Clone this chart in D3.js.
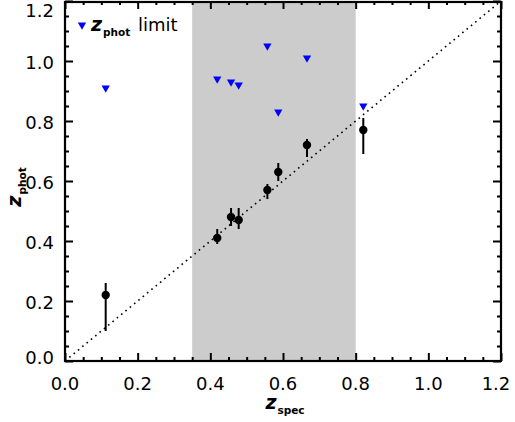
<!DOCTYPE html>
<html>
<head>
<meta charset="utf-8">
<script src="https://cdn.jsdelivr.net/npm/d3@7"></script>
<style>
  html, body { margin: 0; padding: 0; background: #fff; }
  svg { display: block; }
  text { font-family: "DejaVu Sans", sans-serif; fill: #000; }
</style>
</head>
<body>
<svg id="chart" width="515" height="422"></svg>
<script>
// ---- data ----
const zSpec     = [0.112, 0.419, 0.457, 0.478, 0.557, 0.587, 0.666, 0.821];
const zPhot     = [0.22, 0.41, 0.48, 0.47, 0.57, 0.63, 0.72, 0.77];
const zPhotLow  = [0.10, 0.39, 0.45, 0.44, 0.54, 0.60, 0.68, 0.69];
const zPhotHigh = [0.26, 0.44, 0.51, 0.51, 0.59, 0.66, 0.74, 0.81];
const zLimSpec  = [0.112, 0.419, 0.457, 0.478, 0.557, 0.587, 0.666, 0.821];
const zLimit    = [0.91, 0.94, 0.93, 0.92, 1.05, 0.83, 1.01, 0.85];
const shadeRange = [0.35, 0.80];
const majorTicks = [0.0, 0.2, 0.4, 0.6, 0.8, 1.0, 1.2];
const tickLabels = ["0.0", "0.2", "0.4", "0.6", "0.8", "1.0", "1.2"];
const minorTicks = d3.range(0, 25).map(i => i * 0.05);

// ---- layout ----
const L = 65, R = 501, T = 1, B = 361;
const svg = d3.select("#chart");
const x = d3.scaleLinear().domain([0, 1.2]).range([L, R]);
const y = d3.scaleLinear().domain([0, 1.2]).range([B, T]);

// shaded band
svg.append("rect")
  .attr("x", x(shadeRange[0])).attr("y", T)
  .attr("width", x(shadeRange[1]) - x(shadeRange[0]))
  .attr("height", B - T)
  .attr("fill", "#cccccc");

// 1:1 dotted line
svg.append("line")
  .attr("x1", x(0)).attr("y1", y(0))
  .attr("x2", x(1.2)).attr("y2", y(1.2))
  .attr("stroke", "#000").attr("stroke-width", 1.6)
  .attr("stroke-dasharray", "1.6 4");

// error bars
const pts = zSpec.map((s, i) => ({ s, p: zPhot[i], lo: zPhotLow[i], hi: zPhotHigh[i] }));
svg.append("g").selectAll("line").data(pts).join("line")
  .attr("x1", d => x(d.s)).attr("x2", d => x(d.s))
  .attr("y1", d => y(d.lo)).attr("y2", d => y(d.hi))
  .attr("stroke", "#000").attr("stroke-width", 2);

svg.append("g").selectAll("circle").data(pts).join("circle")
  .attr("cx", d => x(d.s)).attr("cy", d => y(d.p))
  .attr("r", 4.2).attr("fill", "#000");

// upper limits (downward triangles)
const tri = d3.symbol().type(d3.symbolTriangle).size(30);
const lims = zLimSpec.map((s, i) => ({ s, p: zLimit[i] }));
svg.append("g").selectAll("path").data(lims).join("path")
  .attr("d", tri)
  .attr("transform", d => `translate(${x(d.s)},${y(d.p)}) rotate(180)`)
  .attr("fill", "#0000ff");

// ---- axes (ticks inward on all four sides) ----
function drawAxis(axisGen, tx, ty, ticks, size) {
  const g = svg.append("g").attr("transform", `translate(${tx},${ty})`)
    .call(axisGen.tickValues(ticks).tickSize(size).tickFormat(""));
  g.select(".domain").remove();
  g.selectAll(".tick line").attr("stroke", "#000").attr("stroke-width", 2);
  return g;
}
const minorOnly = minorTicks.filter(v => !majorTicks.some(m => Math.abs(m - v) < 1e-6));
// bottom
drawAxis(d3.axisTop(x), 0, B, majorTicks, 8);
drawAxis(d3.axisTop(x), 0, B, minorOnly, 4);
// top
drawAxis(d3.axisBottom(x), 0, T, majorTicks, 8);
drawAxis(d3.axisBottom(x), 0, T, minorOnly, 4);
// left
drawAxis(d3.axisRight(y), L, 0, majorTicks, 8);
drawAxis(d3.axisRight(y), L, 0, minorOnly, 4);
// right
drawAxis(d3.axisLeft(y), R, 0, majorTicks, 8);
drawAxis(d3.axisLeft(y), R, 0, minorOnly, 4);

// frame
svg.append("rect")
  .attr("x", L).attr("y", T + 1)
  .attr("width", R - L).attr("height", B - T - 1)
  .attr("fill", "none").attr("stroke", "#000").attr("stroke-width", 2.2);

// x tick labels
svg.append("g").selectAll("text").data(majorTicks).join("text")
  .attr("x", (d, i) => Math.min(x(d), 496))
  .attr("y", 390)
  .attr("text-anchor", "middle")
  .attr("font-size", 18)
  .text((d, i) => tickLabels[i]);

// y tick labels
svg.append("g").selectAll("text").data(majorTicks).join("text")
  .attr("x", 54)
  .attr("y", d => Math.max(10.5, Math.min(357.5, y(d) + 1.5)))
  .attr("text-anchor", "end")
  .attr("dominant-baseline", "central")
  .attr("font-size", 18)
  .text((d, i) => tickLabels[i]);

// x axis title
const xt = svg.append("text").attr("x", (L + R) / 2 + 2).attr("y", 409).attr("text-anchor", "middle");
xt.append("tspan").attr("font-size", 19).attr("font-weight", "bold").attr("font-style", "italic").text("z");
xt.append("tspan").attr("font-size", 10.5).attr("font-weight", "bold").attr("dy", 5).attr("dx", 1).text("spec");

// y axis title
const yt = svg.append("text").attr("transform", "translate(21,187) rotate(-90)").attr("text-anchor", "middle");
yt.append("tspan").attr("font-size", 19).attr("font-weight", "bold").attr("font-style", "italic").text("z");
yt.append("tspan").attr("font-size", 10.5).attr("font-weight", "bold").attr("dy", 5).attr("dx", 1).text("phot");

// legend
svg.append("path").attr("d", tri)
  .attr("transform", "translate(82,25) rotate(180)")
  .attr("fill", "#0000ff");
const lg = svg.append("text").attr("x", 91).attr("y", 31);
lg.append("tspan").attr("font-size", 19).attr("font-weight", "bold").attr("font-style", "italic").text("z");
lg.append("tspan").attr("font-size", 10.5).attr("font-weight", "bold").attr("dy", 5).attr("dx", 1).text("phot");
svg.append("text").attr("x", 138).attr("y", 31).attr("font-size", 18).text("limit");
</script>
</body>
</html>
